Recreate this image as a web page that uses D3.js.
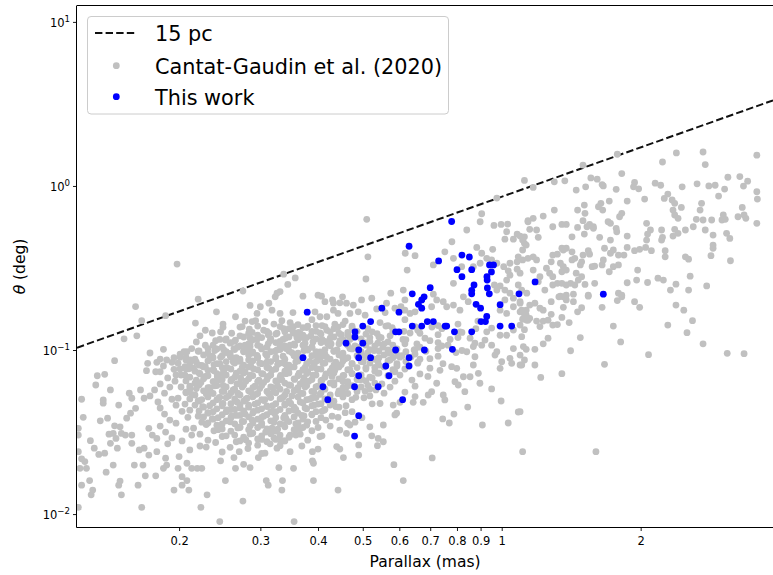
<!DOCTYPE html>
<html><head><meta charset="utf-8">
<script src="https://cdn.jsdelivr.net/npm/d3@7"></script>
<style>body{margin:0;background:#fff}svg{display:block}text{font-family:"DejaVu Sans",sans-serif}</style>
</head><body>
<svg id="c" width="773" height="575"></svg>
<script>
// ---------- data ----------
const xTicks=[0.2,0.3,0.4,0.5,0.6,0.7,0.8,0.9,1,2];
const xTickLabels=["0.2","0.3","0.4","0.5","0.6","0.7","0.8","0.9","1","2"];
const yTicks=[0.01,0.1,1,10];
const yTickExponents=["\u22122","\u22121","0","1"];
const legendLabels=["15 pc","Cantat-Gaudin et al. (2020)","This work"];
const pc15Parallax=[0.1202,3.870];
const pc15Theta=[0.1033,3.325];
const thisWork=[[0.779,0.607],[0.630,0.429],[0.730,0.349],[0.820,0.379],[0.851,0.369],[0.800,0.309],[0.820,0.280],[0.861,0.309],[0.941,0.330],[0.960,0.330],[0.950,0.299],[0.929,0.280],[0.930,0.267],[0.871,0.249],[0.700,0.240],[0.931,0.239],[0.861,0.231],[0.861,0.220],[0.940,0.220],[1.090,0.220],[0.640,0.220],[0.679,0.211],[0.671,0.202],[0.660,0.190],[0.671,0.180],[0.880,0.190],[0.900,0.180],[0.992,0.189],[0.550,0.180],[0.599,0.170],[0.379,0.170],[1.181,0.260],[1.660,0.219],[0.928,0.160],[0.902,0.149],[0.922,0.149],[0.754,0.140],[0.760,0.140],[0.790,0.129],[0.861,0.129],[0.992,0.140],[1.051,0.140],[0.782,0.101],[0.520,0.149],[0.500,0.140],[0.481,0.129],[0.481,0.120],[0.460,0.110],[0.500,0.110],[0.490,0.100],[0.589,0.129],[0.599,0.129],[0.640,0.140],[0.671,0.140],[0.690,0.149],[0.711,0.149],[0.371,0.0898],[0.490,0.0898],[0.520,0.0898],[0.589,0.100],[0.680,0.100],[0.630,0.0898],[0.630,0.0799],[0.561,0.0799],[0.490,0.0697],[0.570,0.0697],[0.410,0.0597],[0.480,0.0597],[0.540,0.0597],[0.420,0.0498],[0.610,0.0498],[0.490,0.0398],[0.480,0.0299]];
const cantatGaudin=[
[0.198,0.334],[0.161,0.184],[0.166,0.151],[0.187,0.162],[0.220,0.204],[0.217,0.146],[0.152,0.117],[0.162,0.122],[0.145,0.0861],[0.133,0.0697],[0.138,0.0711],[0.132,0.0612],[0.173,0.0959],[0.185,0.101],[0.171,0.083],[0.179,0.0841],[0.182,0.0881],[0.170,0.0748],[0.178,0.0737],[0.195,0.0898],[0.193,0.0841],[0.208,0.0976],[0.212,0.0869],[0.206,0.0791],[0.210,0.0769],[0.195,0.0763],[0.197,0.0704],[0.224,0.0806],[0.228,0.0791],[0.231,0.102],[0.241,0.171],[0.249,0.1375],[0.246,0.129],[0.240,0.114],[0.238,0.0748],[0.242,0.0687],[0.250,0.0755],[0.275,0.229],[0.285,0.187],[0.300,0.1835],[0.265,0.1595],[0.295,0.167],[0.293,0.151],[0.288,0.149],[0.274,0.139],[0.284,0.134],[0.260,0.1265],[0.252,0.115],[0.258,0.110],[0.265,0.115],[0.271,0.122],[0.313,0.193],[0.318,0.175],[0.326,0.222],[0.331,0.227],[0.323,0.211],[0.337,0.290],[0.344,0.251],[0.357,0.275],[0.353,0.169],[0.331,0.167],[0.334,0.151],[0.307,0.149],[0.305,0.132],[0.313,0.1265],[0.321,0.144],[0.326,0.1265],[0.354,0.139],[0.363,0.128],[0.340,0.118],[0.348,0.107],[0.295,0.116],[0.300,0.105],[0.285,0.105],[0.278,0.107],[0.276,0.0976],[0.263,0.102],[0.258,0.0955],[0.250,0.100],[0.246,0.0902],[0.205,0.0976],[0.207,0.0869],
[0.123,0.0501],[0.124,0.0389],[0.137,0.0496],[0.137,0.0474],[0.142,0.0571],[0.148,0.0462],[0.135,0.0370],[0.140,0.0384],[0.145,0.0345],[0.144,0.0310],[0.141,0.0307],[0.149,0.0340],[0.150,0.0310],[0.154,0.0384],[0.157,0.0412],[0.161,0.0441],[0.158,0.0508],[0.156,0.0545],[0.168,0.0508],[0.165,0.0571],[0.121,0.0333],[0.121,0.0303],[0.1285,0.0280],[0.131,0.0252],[0.134,0.0231],[0.138,0.0235],[0.142,0.0270],[0.146,0.0289],[0.147,0.0252],[0.153,0.0303],[0.158,0.0303],[0.158,0.0270],[0.164,0.0246],[0.168,0.0252],[0.121,0.0240],[0.123,0.0217],[0.125,0.0209],[0.122,0.0190],[0.126,0.0190],[0.144,0.0199],[0.139,0.0180],[0.160,0.0199],[0.167,0.0199],[0.169,0.0171],[0.178,0.0171],[0.123,0.0150],[0.128,0.0160],[0.130,0.0140],[0.129,0.0131],[0.148,0.0150],[0.149,0.0159],[0.150,0.0131],[0.163,0.0150],[0.166,0.0110],[0.121,0.0110],[0.172,0.0333],[0.175,0.0303],[0.179,0.0289],[0.172,0.0229],[0.179,0.0240],[0.187,0.0219],[0.188,0.0199],[0.185,0.0190],[0.199,0.0190],[0.203,0.0169],[0.208,0.0160],[0.195,0.0140],[0.203,0.0150],[0.210,0.0140],[0.200,0.0224],[0.208,0.0204],[0.213,0.0190],[0.219,0.0190],[0.224,0.0190],[0.230,0.0131],[0.223,0.0110],[0.245,0.0090],[0.252,0.0160],[0.275,0.0120],[0.246,0.0211],[0.263,0.0221],[0.270,0.0240],[0.265,0.0190],[0.276,0.0201],[0.285,0.0192],[0.297,0.0221],[0.307,0.0235],[0.309,0.0160],[0.312,0.0150],[0.335,0.0160],[0.334,0.0140],[0.329,0.0192],[0.354,0.0190],[0.355,0.0090],[0.348,0.0240],[0.326,0.0252],[0.331,0.0283],[0.348,0.0303],[0.366,0.0333],
[0.951,0.0579],[0.997,0.0489],[1.086,0.0419],[1.033,0.0359],[0.908,0.0349],[1.110,0.0240],[0.844,0.0449],[0.788,0.0407],[0.745,0.0380],[0.770,0.0359],[0.707,0.0220],[0.612,0.0160],[0.584,0.0200],[0.442,0.0140],[0.391,0.0160],[0.389,0.0211],[0.391,0.0204],[0.389,0.0240],[0.400,0.0249],[0.439,0.0258],[0.446,0.0249],[0.454,0.0221],[0.490,0.0229],[0.490,0.0264],[0.469,0.0349],[0.461,0.0310],[0.446,0.0325],[0.518,0.0340],[0.523,0.0300],[0.540,0.0289],[0.554,0.0276],[0.538,0.0261],[0.554,0.0349],[0.587,0.0402],[0.592,0.0412],[0.582,0.0462],[0.602,0.0480],[0.643,0.0480],[0.649,0.0520],[0.676,0.0480],[0.693,0.0532],[0.705,0.0557],[0.747,0.0532],[0.753,0.0496],[0.723,0.0627],[0.792,0.0641],[0.805,0.0612],[0.832,0.0557],[0.826,0.0687],[0.854,0.0687],[0.897,0.0627],[0.890,0.0721],[0.779,0.0791],[0.799,0.0773],[0.868,0.0810],[0.875,0.0910],[0.992,0.0773],[1.000,0.0848],[1.042,0.0890],[1.051,0.0830],[1.096,0.0810],[0.967,0.0932],[0.951,0.107],[0.976,0.0976],[1.060,0.102],[1.096,0.0932],[1.114,0.105],[1.025,0.123],[1.060,0.1324],[1.096,0.142],[1.133,0.152],[0.905,0.107],[0.920,0.115],[0.928,0.129],[0.951,0.136],[0.992,0.123],[0.854,0.118],[0.868,0.105],[0.840,0.0976],
[2.39,1.59],[2.73,1.61],[2.76,1.35],[3.57,1.54],[2.23,1.40],[1.82,1.19],[1.78,1.56],[1.50,1.34],[1.12,1.08],[1.17,0.980],[1.30,1.06],[1.37,1.075],[1.56,1.12],[1.61,1.10],[1.65,1.02],[1.66,1.00],[1.45,0.944],[1.52,0.988],[1.77,0.954],[1.94,1.05],[1.93,0.988],[1.98,0.961],[2.15,1.04],[2.21,1.01],[2.46,0.988],[2.65,1.03],[2.81,1.00],[2.90,1.01],[3.09,1.13],[3.28,1.14],[3.41,1.07],[3.34,0.998],[3.04,0.957],[3.57,0.922],[3.58,0.832],[2.95,0.868],[2.29,0.892],[2.25,0.840],[2.04,0.832],[2.34,0.821],[2.37,0.784],[2.45,0.740],[2.71,0.784],[2.69,0.713],[3.32,0.740],[3.35,0.665],[3.38,0.635],[3.25,0.649],[3.57,0.592],[3.02,0.665],[3.05,0.626],[3.00,0.620],[1.87,0.809],[1.71,0.809],[1.64,0.784],[1.62,0.747],[1.655,0.713],[1.51,0.765],[1.46,0.713],[1.30,0.713],[1.23,0.655],[1.17,0.635],[1.14,0.605],[1.515,0.681],[1.50,0.614],[1.55,0.583],[1.58,0.552],[1.70,0.605],[1.72,0.592],[1.80,0.649],[1.82,0.681],[1.77,0.552],[1.775,0.526],[1.35,0.583],[1.38,0.583],[1.29,0.564],[1.46,0.559],[1.53,0.564],[1.15,0.544],[1.19,0.539],[1.20,0.486],[1.42,0.490],[1.51,0.509],[1.58,0.564],[1.63,0.486],[1.87,0.495],[1.72,0.468],[2.06,0.592],[2.10,0.539],[2.07,0.509],[2.06,0.468],[2.22,0.539],[2.23,0.486],[2.22,0.468],[2.35,0.713],[2.37,0.665],[2.41,0.635],[2.37,0.544],[2.41,0.514],[2.35,0.495],[2.50,0.539],[2.60,0.564],[2.64,0.626],[2.73,0.620],[2.85,0.620],[2.76,0.539],[2.87,0.502],[3.07,0.514],[3.12,0.479],[2.87,0.436],[2.87,0.417],[2.84,0.376],[3.13,0.350],[2.50,0.370],[2.54,0.358],[2.26,0.403],[2.26,0.370],[2.11,0.403],[1.94,0.403],[1.99,0.411],[2.05,0.422],[1.87,0.422],[1.84,0.379],[1.79,0.379],[1.745,0.407],[1.72,0.389],[1.67,0.417],[1.79,0.330],[1.745,0.322],[1.71,0.300],[1.66,0.354],[1.65,0.330],[1.59,0.325],[1.57,0.322],[1.59,0.255],[1.54,0.403],[1.55,0.384],[1.50,0.379],[1.44,0.362],[1.42,0.354],[1.36,0.407],[1.35,0.417],[1.38,0.417],[1.42,0.397],[1.29,0.379],[1.32,0.384],[1.28,0.345],[1.34,0.338],[1.36,0.322],[1.38,0.307],[1.35,0.300],[1.48,0.330],[1.49,0.345],[1.45,0.294],[1.49,0.280],[1.465,0.267],[1.25,0.315],[1.27,0.294],[1.29,0.280],[1.19,0.354],[1.17,0.370],[1.14,0.362],[1.11,0.407],[1.13,0.436],[1.11,0.468],[1.12,0.490],[1.17,0.307],[1.21,0.280],[1.20,0.261],[1.24,0.232],[1.29,0.249],[1.32,0.255],[1.35,0.255],[1.38,0.249],[1.41,0.255],[1.44,0.249],[1.515,0.251],[1.54,0.216],[1.38,0.216],[1.43,0.219],[1.34,0.213],[1.87,0.257],[1.96,0.267],[2.07,0.258],[2.18,0.274],[2.24,0.267],[2.32,0.232],[2.385,0.252],[2.56,0.282],[2.54,0.232],[2.78,0.246],[1.97,0.307],[1.79,0.222],[1.82,0.216],
[2.385,0.188],[2.48,0.175],[2.59,0.151],[2.29,0.142],[2.52,0.1275],[2.73,0.109],[3.08,0.0955],[3.35,0.0950],[2.08,0.0936],[1.81,0.112],[1.745,0.140],[1.94,0.197],[1.99,0.182],[1.78,0.200],[1.82,0.211],[1.65,0.182],[1.48,0.119],[1.41,0.0990],[1.67,0.0818],[1.35,0.0717],[1.215,0.0681],[1.18,0.0810],[1.12,0.0869],[1.105,0.0810],[1.18,0.101],[1.13,0.101],[1.23,0.109],[1.26,0.118],[1.12,0.133],[1.105,0.1205],[1.096,0.0421],[1.60,0.0240],[1.40,0.147],[1.35,0.158],[1.28,0.165],[1.29,0.142],[1.32,0.143],[1.19,0.150],[1.21,0.139],[1.23,0.150],[1.26,0.152],[1.13,0.163],[1.15,0.156],[1.11,0.154],[1.14,0.152],[1.105,0.175],[1.11,0.171],[1.13,0.175],[1.21,0.180],[1.23,0.175],[1.18,0.193],[1.15,0.188],[1.36,0.182],[1.46,0.171],[1.49,0.181],[1.43,0.197],[1.38,0.202],[1.36,0.211],[1.28,0.197],[1.33,0.211],[1.54,0.213],[1.096,0.193],
[0.976,0.844],[0.905,0.677],[0.898,0.605],[0.510,0.626],[0.513,0.370],[0.508,0.271],[0.618,0.389],[0.649,0.376],[0.624,0.307],[0.711,0.330],[0.780,0.457],[0.840,0.539],[0.883,0.422],[0.956,0.411],[0.962,0.575],[0.997,0.583],[1.03,0.586],[1.025,0.526],[1.016,0.474],[1.06,0.474],[1.08,0.509],[1.096,0.495],[1.12,0.447],[1.14,0.614],[1.086,0.370],[1.11,0.354],[1.01,0.322],[1.033,0.304],[1.08,0.311],[1.096,0.294],[1.042,0.286],[1.025,0.267],[0.992,0.246],[1.016,0.232],[1.042,0.222],[1.086,0.249],[1.105,0.232],[1.133,0.222],[0.786,0.255],[0.826,0.211],[0.846,0.197],[0.964,0.249],[0.976,0.232],[0.747,0.197],[0.760,0.1835],[0.711,0.219],[0.723,0.202],[0.705,0.1835],[0.786,0.188],[0.812,0.175],[0.612,0.232],[0.617,0.202],[0.605,0.1835],[0.587,0.180],[0.575,0.222],[0.563,0.193],[0.523,0.207],[0.497,0.202],[0.477,0.188],[0.461,0.193],[0.446,0.194],[0.432,0.193],[0.430,0.202],[0.414,0.197],[0.400,0.216],[0.407,0.213],[0.371,0.213],[0.452,0.211],[0.536,0.178],[0.559,0.169],[0.617,0.175],[0.633,0.167],[0.649,0.171],[0.394,0.171],[0.404,0.1595],[0.418,0.1595],[0.432,0.175],[0.442,0.167],[0.469,0.167],[0.489,0.171],[0.506,0.163],[0.992,0.175],[1.025,0.167],[1.06,0.1835],[1.096,0.171],[1.12,0.1595],[1.016,0.202],[1.06,0.207],[1.096,0.197],[1.08,0.345],[1.042,0.338],[0.951,0.354],[0.976,0.338],[0.905,0.389],[0.928,0.362],[0.868,0.322],[0.898,0.338],[0.786,0.362],[0.753,0.397],[0.819,0.322],
[0.249,0.144],[0.278,0.150],[0.296,0.140],[0.348,0.147],[0.371,0.137],[0.388,0.153],[0.408,0.141],[0.435,0.144],[0.458,0.150],[0.474,0.140],[0.545,0.147],[0.579,0.137],[0.617,0.153],[0.728,0.141],[0.804,0.144],[0.888,0.150],
[0.228,0.132],[0.271,0.138],[0.288,0.128],[0.337,0.135],[0.366,0.126],[0.380,0.140],[0.396,0.130],[0.418,0.132],[0.442,0.138],[0.464,0.128],[0.513,0.135],[0.537,0.126],[0.561,0.140],[0.614,0.130],[0.658,0.132],[0.706,0.138],[0.820,0.128],[0.879,0.135],
[0.222,0.122],[0.236,0.127],[0.285,0.118],[0.312,0.124],[0.336,0.116],[0.353,0.129],[0.371,0.119],[0.386,0.122],[0.404,0.127],[0.425,0.118],[0.449,0.124],[0.469,0.116],[0.524,0.129],[0.548,0.119],[0.573,0.122],[0.633,0.127],[0.682,0.118],[0.728,0.124],[0.773,0.116],[0.812,0.129],
[0.218,0.112],[0.245,0.116],[0.285,0.109],[0.315,0.114],[0.331,0.106],[0.360,0.119],[0.375,0.110],[0.390,0.112],[0.408,0.116],[0.427,0.109],[0.446,0.114],[0.481,0.106],[0.518,0.119],[0.539,0.110],[0.567,0.112],[0.611,0.116],[0.655,0.109],[0.699,0.114],[0.742,0.106],[0.804,0.119],[0.875,0.110],
[0.213,0.102],[0.228,0.107],[0.239,0.0993],[0.268,0.104],[0.289,0.0973],[0.312,0.109],[0.326,0.100],[0.341,0.102],[0.356,0.107],[0.373,0.0993],[0.388,0.104],[0.404,0.0973],[0.420,0.109],[0.440,0.100],[0.469,0.102],[0.508,0.107],[0.529,0.0993],[0.553,0.104],[0.579,0.0973],[0.617,0.109],[0.646,0.100],[0.728,0.102],[0.765,0.107],[0.820,0.0993],
[0.201,0.0945],[0.220,0.0983],[0.236,0.0917],[0.253,0.0964],[0.266,0.0898],[0.282,0.100],[0.295,0.0926],[0.308,0.0945],[0.323,0.0983],[0.336,0.0917],[0.351,0.0964],[0.366,0.0898],[0.380,0.100],[0.396,0.0926],[0.414,0.0945],[0.433,0.0983],[0.451,0.0917],[0.513,0.0964],[0.542,0.0898],[0.567,0.100],[0.596,0.0926],[0.649,0.0945],[0.685,0.0983],[0.728,0.0917],[0.796,0.0964],
[0.188,0.0869],[0.201,0.0904],[0.218,0.0843],[0.233,0.0886],[0.245,0.0826],[0.258,0.0921],[0.271,0.0852],[0.283,0.0869],[0.296,0.0904],[0.310,0.0843],[0.324,0.0886],[0.339,0.0826],[0.355,0.0921],[0.384,0.0852],[0.400,0.0869],[0.418,0.0904],[0.437,0.0843],[0.458,0.0886],[0.474,0.0826],[0.506,0.0921],[0.539,0.0852],[0.573,0.0869],[0.602,0.0904],[0.658,0.0843],[0.699,0.0886],[0.746,0.0826],
[0.185,0.0799],[0.199,0.0831],[0.215,0.0775],[0.238,0.0815],[0.250,0.0759],[0.262,0.0847],[0.274,0.0783],[0.286,0.0799],[0.299,0.0831],[0.313,0.0775],[0.327,0.0815],[0.342,0.0759],[0.358,0.0847],[0.375,0.0783],[0.392,0.0799],[0.410,0.0831],[0.429,0.0775],[0.449,0.0815],[0.469,0.0759],[0.501,0.0847],[0.531,0.0783],[0.593,0.0799],[0.658,0.0831],[0.699,0.0775],
[0.182,0.0737],[0.201,0.0766],[0.222,0.0715],[0.231,0.0752],[0.243,0.0700],[0.254,0.0781],[0.266,0.0722],[0.278,0.0737],[0.290,0.0766],[0.304,0.0715],[0.318,0.0752],[0.332,0.0700],[0.348,0.0781],[0.364,0.0722],[0.380,0.0737],[0.398,0.0766],[0.416,0.0715],[0.435,0.0752],[0.455,0.0700],[0.508,0.0781],[0.539,0.0722],[0.587,0.0737],[0.617,0.0766],[0.665,0.0715],[0.735,0.0752],
[0.189,0.0676],[0.206,0.0703],[0.218,0.0656],[0.228,0.0690],[0.238,0.0642],[0.249,0.0717],[0.260,0.0662],[0.272,0.0676],[0.285,0.0703],[0.298,0.0656],[0.312,0.0690],[0.326,0.0642],[0.341,0.0717],[0.356,0.0662],[0.373,0.0676],[0.390,0.0703],[0.408,0.0656],[0.429,0.0690],[0.453,0.0642],[0.474,0.0717],[0.498,0.0662],[0.524,0.0676],[0.602,0.0703],[0.639,0.0656],[0.692,0.0690],
[0.182,0.0621],[0.196,0.0646],[0.211,0.0602],[0.223,0.0633],[0.233,0.0590],[0.244,0.0658],[0.249,0.0609],[0.267,0.0621],[0.279,0.0646],[0.292,0.0602],[0.305,0.0633],[0.319,0.0590],[0.334,0.0658],[0.349,0.0609],[0.366,0.0621],[0.382,0.0646],[0.400,0.0602],[0.433,0.0633],[0.460,0.0590],[0.493,0.0658],[0.513,0.0609],[0.550,0.0621],[0.587,0.0646],[0.649,0.0602],
[0.177,0.0571],[0.191,0.0594],[0.207,0.0554],[0.218,0.0582],[0.229,0.0542],[0.239,0.0605],[0.250,0.0560],[0.262,0.0571],[0.274,0.0594],[0.286,0.0554],[0.299,0.0582],[0.313,0.0542],[0.327,0.0605],[0.342,0.0560],[0.358,0.0571],[0.375,0.0594],[0.392,0.0554],[0.410,0.0582],[0.442,0.0542],[0.464,0.0605],[0.506,0.0560],[0.534,0.0571],[0.573,0.0594],[0.617,0.0554],
[0.173,0.0525],[0.186,0.0546],[0.199,0.0509],[0.213,0.0536],[0.224,0.0499],[0.234,0.0557],[0.245,0.0515],[0.256,0.0525],[0.268,0.0546],[0.281,0.0509],[0.293,0.0536],[0.307,0.0499],[0.321,0.0557],[0.336,0.0515],[0.351,0.0525],[0.367,0.0546],[0.388,0.0509],[0.404,0.0536],[0.425,0.0499],[0.451,0.0557],[0.483,0.0515],[0.518,0.0525],[0.556,0.0546],
[0.180,0.0482],[0.193,0.0501],[0.206,0.0468],[0.220,0.0492],[0.233,0.0458],[0.244,0.0511],[0.249,0.0472],[0.267,0.0482],[0.279,0.0501],[0.292,0.0468],[0.305,0.0492],[0.319,0.0458],[0.334,0.0511],[0.349,0.0472],[0.366,0.0482],[0.384,0.0501],[0.400,0.0468],[0.420,0.0492],[0.460,0.0458],[0.503,0.0511],[0.545,0.0472],
[0.182,0.0443],[0.197,0.0461],[0.211,0.0430],[0.225,0.0452],[0.237,0.0421],[0.248,0.0470],[0.259,0.0434],[0.271,0.0443],[0.283,0.0461],[0.296,0.0430],[0.310,0.0452],[0.324,0.0421],[0.339,0.0470],[0.358,0.0434],[0.375,0.0443],[0.392,0.0461],[0.412,0.0430],[0.437,0.0452],[0.474,0.0421],[0.524,0.0470],
[0.186,0.0407],[0.203,0.0423],[0.220,0.0395],[0.231,0.0415],[0.243,0.0387],[0.254,0.0431],[0.266,0.0399],[0.278,0.0407],[0.290,0.0423],[0.305,0.0395],[0.321,0.0415],[0.337,0.0387],[0.355,0.0431],[0.369,0.0399],[0.388,0.0407],[0.408,0.0423],[0.429,0.0395],[0.458,0.0415],[0.498,0.0387],
[0.191,0.0374],[0.209,0.0389],[0.224,0.0363],[0.236,0.0381],[0.248,0.0355],[0.260,0.0396],[0.274,0.0367],[0.288,0.0374],[0.302,0.0389],[0.321,0.0363],[0.341,0.0381],[0.358,0.0355],[0.373,0.0396],[0.396,0.0367],[0.416,0.0374],[0.442,0.0389],[0.481,0.0363],
[0.182,0.0344],[0.197,0.0358],[0.215,0.0334],[0.229,0.0351],[0.243,0.0327],[0.258,0.0365],[0.271,0.0337],[0.285,0.0344],[0.302,0.0358],[0.318,0.0334],[0.337,0.0351],[0.358,0.0327],[0.380,0.0365],[0.400,0.0337],[0.425,0.0344],[0.464,0.0358],
[0.187,0.0316],[0.207,0.0329],[0.222,0.0307],[0.238,0.0322],[0.253,0.0300],[0.268,0.0335],[0.288,0.0310],[0.308,0.0316],[0.327,0.0329],[0.366,0.0307],[0.388,0.0322],[0.408,0.0300],
[0.193,0.0291],[0.213,0.0303],[0.231,0.0282],[0.248,0.0297],[0.266,0.0276],[0.285,0.0308],[0.302,0.0285],[0.321,0.0291],[0.358,0.0303],[0.380,0.0282],[0.404,0.0297],
[0.189,0.0268],[0.203,0.0279],[0.222,0.0260],[0.240,0.0273],[0.258,0.0255],[0.279,0.0284],[0.296,0.0263],[0.315,0.0268],[0.337,0.0279],[0.369,0.0260],
[0.211,0.0246],[0.229,0.0256],[0.248,0.0239],[0.282,0.0251],[0.302,0.0234],[0.331,0.0261],
[0.331,0.139],[0.346,0.135],[0.362,0.143],[0.378,0.137],[0.396,0.141],[0.414,0.139],[0.433,0.135],[0.453,0.143],[0.474,0.137],[0.567,0.141],[0.649,0.139],[0.742,0.135],
[0.283,0.1265],[0.296,0.123],[0.310,0.130],[0.324,0.125],[0.339,0.129],[0.355,0.1265],[0.371,0.123],[0.388,0.130],[0.406,0.125],[0.425,0.129],[0.444,0.1265],[0.464,0.123],[0.486,0.130],[0.508,0.125],[0.581,0.129],[0.665,0.1265],
[0.253,0.117],[0.264,0.113],[0.276,0.120],[0.289,0.1155],[0.302,0.119],[0.316,0.117],[0.331,0.113],[0.346,0.120],[0.362,0.1155],[0.378,0.119],[0.396,0.117],[0.414,0.113],[0.433,0.120],[0.453,0.1155],[0.474,0.119],[0.496,0.117],[0.518,0.113],[0.542,0.120],[0.620,0.1155],
[0.237,0.107],[0.248,0.104],[0.259,0.111],[0.271,0.106],[0.283,0.109],[0.296,0.107],[0.310,0.104],[0.324,0.111],[0.339,0.106],[0.355,0.109],[0.371,0.107],[0.388,0.104],[0.406,0.111],[0.425,0.106],[0.444,0.109],[0.464,0.107],[0.486,0.104],[0.508,0.111],[0.531,0.106],[0.556,0.109],[0.581,0.107],[0.665,0.104],[0.728,0.111],
[0.221,0.0986],[0.231,0.0956],[0.2415,0.1016],[0.253,0.0976],[0.264,0.1006],[0.276,0.0986],[0.289,0.0956],[0.302,0.1016],[0.316,0.0976],[0.331,0.1006],[0.346,0.0986],[0.362,0.0956],[0.378,0.1016],[0.396,0.0976],[0.414,0.1006],[0.433,0.0986],[0.453,0.0956],[0.474,0.1016],[0.496,0.0976],[0.518,0.1006],[0.542,0.0986],[0.567,0.0956],[0.593,0.1016],[0.620,0.0976],[0.649,0.1006],
[0.207,0.0906],[0.2165,0.0879],[0.226,0.0933],[0.237,0.0897],[0.248,0.0924],[0.259,0.0906],[0.271,0.0879],[0.283,0.0933],[0.296,0.0897],[0.310,0.0924],[0.324,0.0906],[0.339,0.0879],[0.355,0.0933],[0.371,0.0897],[0.388,0.0924],[0.406,0.0906],[0.425,0.0879],[0.444,0.0933],[0.464,0.0897],[0.486,0.0924],[0.508,0.0906],[0.531,0.0879],[0.556,0.0933],[0.581,0.0897],[0.608,0.0924],[0.636,0.0906],[0.665,0.0879],
[0.211,0.0833],[0.221,0.0808],[0.231,0.0858],[0.2415,0.0825],[0.253,0.0850],[0.264,0.0833],[0.276,0.0808],[0.289,0.0858],[0.302,0.0825],[0.316,0.0850],[0.331,0.0833],[0.346,0.0808],[0.362,0.0858],[0.378,0.0825],[0.396,0.0850],[0.414,0.0833],[0.433,0.0808],[0.453,0.0858],[0.474,0.0825],[0.496,0.0850],[0.518,0.0833],[0.542,0.0808],[0.567,0.0858],[0.593,0.0825],[0.620,0.0850],
[0.207,0.0766],[0.2165,0.0743],[0.226,0.0789],[0.237,0.0758],[0.248,0.0781],[0.259,0.0766],[0.271,0.0743],[0.283,0.0789],[0.296,0.0758],[0.310,0.0781],[0.324,0.0766],[0.339,0.0743],[0.355,0.0789],[0.371,0.0758],[0.388,0.0781],[0.406,0.0766],[0.425,0.0743],[0.444,0.0789],[0.464,0.0758],[0.486,0.0781],[0.508,0.0766],[0.531,0.0743],[0.556,0.0789],[0.581,0.0758],
[0.202,0.0704],[0.211,0.0683],[0.221,0.0725],[0.231,0.0697],[0.2415,0.0718],[0.253,0.0704],[0.264,0.0683],[0.276,0.0725],[0.289,0.0697],[0.302,0.0718],[0.316,0.0704],[0.331,0.0683],[0.346,0.0725],[0.362,0.0697],[0.378,0.0718],[0.396,0.0704],[0.414,0.0683],[0.433,0.0725],[0.453,0.0697],[0.474,0.0718],[0.496,0.0704],[0.518,0.0683],[0.542,0.0725],[0.567,0.0697],
[0.207,0.0648],[0.2165,0.0629],[0.226,0.0667],[0.237,0.0642],[0.248,0.0661],[0.259,0.0648],[0.271,0.0629],[0.283,0.0667],[0.296,0.0642],[0.310,0.0661],[0.324,0.0648],[0.339,0.0629],[0.355,0.0667],[0.371,0.0642],[0.388,0.0661],[0.406,0.0648],[0.425,0.0629],[0.444,0.0667],[0.464,0.0642],[0.486,0.0661],[0.508,0.0648],[0.531,0.0629],
[0.202,0.0595],[0.211,0.0577],[0.221,0.0613],[0.231,0.0589],[0.2415,0.0607],[0.253,0.0595],[0.264,0.0577],[0.276,0.0613],[0.289,0.0589],[0.302,0.0607],[0.316,0.0595],[0.331,0.0577],[0.346,0.0613],[0.362,0.0589],[0.378,0.0607],[0.396,0.0595],[0.414,0.0577],[0.433,0.0613],[0.453,0.0589],[0.474,0.0607],[0.496,0.0595],[0.518,0.0577],
[0.207,0.0548],[0.2165,0.0532],[0.226,0.0564],[0.237,0.0543],[0.248,0.0559],[0.259,0.0548],[0.271,0.0532],[0.283,0.0564],[0.296,0.0543],[0.310,0.0559],[0.324,0.0548],[0.339,0.0532],[0.355,0.0564],[0.371,0.0543],[0.388,0.0559],[0.406,0.0548],[0.425,0.0532],[0.444,0.0564],[0.464,0.0543],[0.486,0.0559],
[0.211,0.0503],[0.221,0.0488],[0.231,0.0518],[0.2415,0.0498],[0.253,0.0513],[0.264,0.0503],[0.276,0.0488],[0.289,0.0518],[0.302,0.0498],[0.316,0.0513],[0.331,0.0503],[0.346,0.0488],[0.362,0.0518],[0.378,0.0498],[0.396,0.0513],[0.414,0.0503],[0.433,0.0488],[0.453,0.0518],[0.474,0.0498],
[0.2165,0.0462],[0.226,0.0448],[0.237,0.0476],[0.248,0.0457],[0.259,0.0471],[0.271,0.0462],[0.283,0.0448],[0.296,0.0476],[0.310,0.0457],[0.324,0.0471],[0.339,0.0462],[0.355,0.0448],[0.371,0.0476],[0.388,0.0457],[0.406,0.0471],[0.425,0.0462],[0.444,0.0448],
[0.221,0.0425],[0.231,0.0412],[0.2415,0.0438],[0.253,0.0421],[0.264,0.0434],[0.276,0.0425],[0.289,0.0412],[0.302,0.0438],[0.316,0.0421],[0.331,0.0434],[0.346,0.0425],[0.362,0.0412],[0.378,0.0438],[0.396,0.0421],[0.414,0.0434],
[0.226,0.0391],[0.237,0.0379],[0.248,0.0403],[0.259,0.0387],[0.271,0.0399],[0.283,0.0391],[0.296,0.0379],[0.310,0.0403],[0.324,0.0387],[0.339,0.0399],[0.355,0.0391],[0.371,0.0379],[0.388,0.0403],[0.406,0.0387],
[0.231,0.0359],[0.2415,0.0348],[0.253,0.0370],[0.264,0.0355],[0.276,0.0366],[0.289,0.0359],[0.302,0.0348],[0.316,0.0370],[0.331,0.0355],[0.346,0.0366],[0.362,0.0359],[0.378,0.0348],
[0.248,0.0330],[0.259,0.0320],[0.271,0.0340],[0.283,0.0327],[0.296,0.0337],[0.310,0.0330],[0.324,0.0320],[0.339,0.0340],[0.355,0.0327],[0.371,0.0337],
[0.264,0.0303],[0.276,0.0294],[0.289,0.0312],[0.302,0.0300],[0.316,0.0309],[0.331,0.0303],[0.346,0.0294],
[0.271,0.0279],[0.283,0.0271],[0.296,0.0287],[0.310,0.0276],[0.324,0.0285],[0.339,0.0279]
];

// ---------- chart ----------
const svg=d3.select("#c");
const L=77,R=773,T=6,B=527;
const x=d3.scaleLog().domain([0.1202,3.870]).range([L,R]);
const y=d3.scaleLog().domain([0.00834,12.5]).range([B,T]);

svg.append("defs").append("clipPath").attr("id","clip")
  .append("rect").attr("x",L).attr("y",T).attr("width",R-L).attr("height",B-T);
const plot=svg.append("g").attr("clip-path","url(#clip)");

plot.append("path")
  .datum(pc15Parallax.map((p,i)=>[p,pc15Theta[i]]))
  .attr("d",d3.line().x(d=>x(d[0])).y(d=>y(d[1])))
  .attr("fill","none").attr("stroke","#111").attr("stroke-width",2)
  .attr("stroke-dasharray","7.4,3.2");

plot.append("g").selectAll("circle").data(cantatGaudin).join("circle")
  .attr("cx",d=>x(d[0])).attr("cy",d=>y(d[1])).attr("r",3.4).attr("fill","#c0c0c0");
plot.append("g").selectAll("circle").data(thisWork).join("circle")
  .attr("cx",d=>x(d[0])).attr("cy",d=>y(d[1])).attr("r",3.4).attr("fill","#0000ff");

// spines
const sp=svg.append("g").attr("stroke","#000").attr("stroke-width",1).attr("fill","none");
sp.append("line").attr("x1",L-0.5).attr("x2",L-0.5).attr("y1",T).attr("y2",B+0.5);
sp.append("line").attr("x1",L-0.5).attr("x2",R+1).attr("y1",B+0.5).attr("y2",B+0.5);
sp.append("line").attr("x1",L-0.5).attr("x2",R+1).attr("y1",T-0.5).attr("y2",T-0.5);

// x axis
const gx=svg.append("g").attr("transform",`translate(0,${B+0.5})`)
  .call(d3.axisBottom(x).tickValues(xTicks).tickFormat((d,i)=>xTickLabels[i]).tickSizeInner(3.5).tickSizeOuter(0));
gx.select(".domain").remove();
gx.selectAll(".tick line").attr("stroke","#000").attr("stroke-width",0.9);
gx.selectAll(".tick text").attr("y",17.5).attr("dy","0").attr("font-size",11.5)
  .attr("fill","#000").attr("font-family","DejaVu Sans");

// y axis
const gy=svg.append("g").attr("transform",`translate(${L-0.5},0)`)
  .call(d3.axisLeft(y).tickValues(yTicks).tickFormat("").tickSizeInner(3.5).tickSizeOuter(0));
gy.select(".domain").remove();
gy.selectAll(".tick line").attr("stroke","#000").attr("stroke-width",0.9);
gy.selectAll(".tick text").remove();
gy.selectAll(".tick").each(function(d,i){
  const t=d3.select(this).append("text").attr("x",-6.5).attr("y",4.2)
    .attr("text-anchor","end").attr("font-size",11.5).attr("fill","#000").attr("font-family","DejaVu Sans");
  t.append("tspan").text("10");
  t.append("tspan").attr("dy",-5).attr("font-size",8.6).text(yTickExponents[i]);
});

// axis labels
svg.append("text").attr("x",(L+R)/2).attr("y",567).attr("text-anchor","middle")
  .attr("font-size",15.5).attr("fill","#000").text("Parallax (mas)");
const yl=svg.append("text").attr("transform",`translate(25,${(T+B)/2}) rotate(-90)`)
  .attr("text-anchor","middle").attr("font-size",15.5).attr("fill","#000");
yl.append("tspan").attr("font-style","italic").text("\u03b8");
yl.append("tspan").text(" (deg)");

// legend
const lg=svg.append("g");
lg.append("rect").attr("x",87.5).attr("y",16.5).attr("width",361).attr("height",97.5).attr("rx",3.5)
  .attr("fill","#fff").attr("fill-opacity",0.8).attr("stroke","#cccccc").attr("stroke-width",1);
lg.append("line").attr("x1",95).attr("x2",137).attr("y1",33).attr("y2",33)
  .attr("stroke","#111").attr("stroke-width",2).attr("stroke-dasharray","7.4,3.2");
lg.append("circle").attr("cx",116.3).attr("cy",65.7).attr("r",3.4).attr("fill","#c0c0c0");
lg.append("circle").attr("cx",116.3).attr("cy",96.7).attr("r",3.4).attr("fill","#0000ff");
[41,73.5,104.5].forEach((yy,i)=>{
  lg.append("text").attr("x",155).attr("y",yy).attr("font-size",20.8).attr("fill","#000").text(legendLabels[i]);
});
</script>
</body></html>
